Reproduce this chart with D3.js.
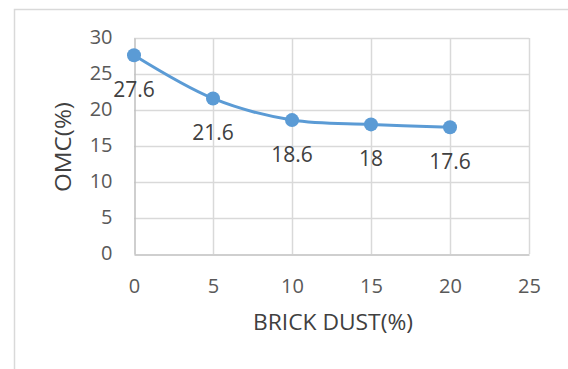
<!DOCTYPE html>
<html>
<head>
<meta charset="utf-8">
<script src="https://cdn.jsdelivr.net/npm/d3@7"></script>
<style>
  html, body { margin: 0; padding: 0; background: #fff; }
  svg { display: block; }
  text { font-family: "Open Sans", "Liberation Sans", sans-serif; }
</style>
</head>
<body>
<svg id="chart" width="568" height="369"></svg>
<script>
// Optimum moisture content vs. brick dust content
const brickDust = [0, 5, 10, 15, 20];
const omc = [27.6, 21.6, 18.6, 18, 17.6];
const xTicks = [0, 5, 10, 15, 20, 25];
const yTicks = [0, 5, 10, 15, 20, 25, 30];
const xTitle = "BRICK DUST(%)";
const yTitle = "OMC(%)";

const svg = d3.select("#chart");
const plot = { left: 134, right: 529, top: 38, bottom: 254 };

const x = d3.scaleLinear().domain([0, 25]).range([plot.left, plot.right]);
const y = d3.scaleLinear().domain([0, 30]).range([plot.bottom, plot.top]);

// outer chart frame
svg.append("rect")
  .attr("x", 14.5).attr("y", 9.5)
  .attr("width", 600).attr("height", 400)
  .attr("fill", "none").attr("stroke", "#d9d9d9").attr("stroke-width", 1.5);

// gridlines
svg.append("g")
  .selectAll("line.h")
  .data(yTicks.filter(d => d > 0))
  .join("line")
  .attr("x1", plot.left).attr("x2", plot.right)
  .attr("y1", d => Math.round(y(d)) + 0.5).attr("y2", d => Math.round(y(d)) + 0.5)
  .attr("stroke", "#d9d9d9").attr("stroke-width", 1.5);

svg.append("g")
  .selectAll("line.v")
  .data(xTicks.filter(d => d > 0))
  .join("line")
  .attr("y1", plot.top).attr("y2", plot.bottom)
  .attr("x1", d => Math.round(x(d)) + 0.5).attr("x2", d => Math.round(x(d)) + 0.5)
  .attr("stroke", "#d9d9d9").attr("stroke-width", 1.5);

// axes lines
const xAxis = d3.axisBottom(x).tickValues(xTicks).tickSize(0).tickPadding(22);
const yAxis = d3.axisLeft(y).tickValues(yTicks).tickSize(0).tickPadding(22);

const gx = svg.append("g").attr("transform", `translate(0,${plot.bottom + 0.5})`).call(xAxis);
const gy = svg.append("g").attr("transform", `translate(${plot.left + 0.5},0)`).call(yAxis);

[gx, gy].forEach(g => {
  g.select(".domain").attr("stroke", "#bfbfbf").attr("stroke-width", 1.5);
  g.selectAll("text")
    .attr("font-size", 20)
    .attr("fill", "#595959")
    .attr("font-family", "\"Open Sans\", sans-serif");
});
gx.selectAll("text").attr("dy", null).attr("y", 33).attr("dominant-baseline", "middle");
gy.selectAll("text").attr("dy", null).attr("x", -22).attr("dominant-baseline", "middle");

// axis titles
svg.append("text")
  .attr("x", 333)
  .attr("y", 324)
  .attr("text-anchor", "middle")
  .attr("dominant-baseline", "middle")
  .attr("font-size", 22)
  .attr("textLength", 160)
  .attr("lengthAdjust", "spacingAndGlyphs")
  .attr("fill", "#404040")
  .text(xTitle);

svg.append("text")
  .attr("transform", `translate(65,147) rotate(-90)`)
  .attr("text-anchor", "middle")
  .attr("dominant-baseline", "middle")
  .attr("font-size", 22)
  .attr("textLength", 90)
  .attr("lengthAdjust", "spacingAndGlyphs")
  .attr("fill", "#404040")
  .text(yTitle);

// smoothed series line
const pts = brickDust.map((d, i) => [d, omc[i]]);
const line = d3.line()
  .x(d => x(d[0])).y(d => y(d[1]))
  .curve(d3.curveCardinal.tension(0));

svg.append("path")
  .datum(pts)
  .attr("d", line)
  .attr("fill", "none")
  .attr("stroke", "#5b9bd5")
  .attr("stroke-width", 3)
  .attr("stroke-linecap", "round");

// markers
svg.append("g")
  .selectAll("circle")
  .data(pts)
  .join("circle")
  .attr("cx", d => x(d[0])).attr("cy", d => y(d[1]))
  .attr("r", 7)
  .attr("fill", "#5b9bd5");

// data labels below points
svg.append("g")
  .selectAll("text")
  .data(pts)
  .join("text")
  .attr("x", d => x(d[0]))
  .attr("y", d => y(d[1]) + 36)
  .attr("text-anchor", "middle")
  .attr("dominant-baseline", "middle")
  .attr("font-size", 21)
  .attr("fill", "#404040")
  .text(d => d[1]);
</script>
</body>
</html>
